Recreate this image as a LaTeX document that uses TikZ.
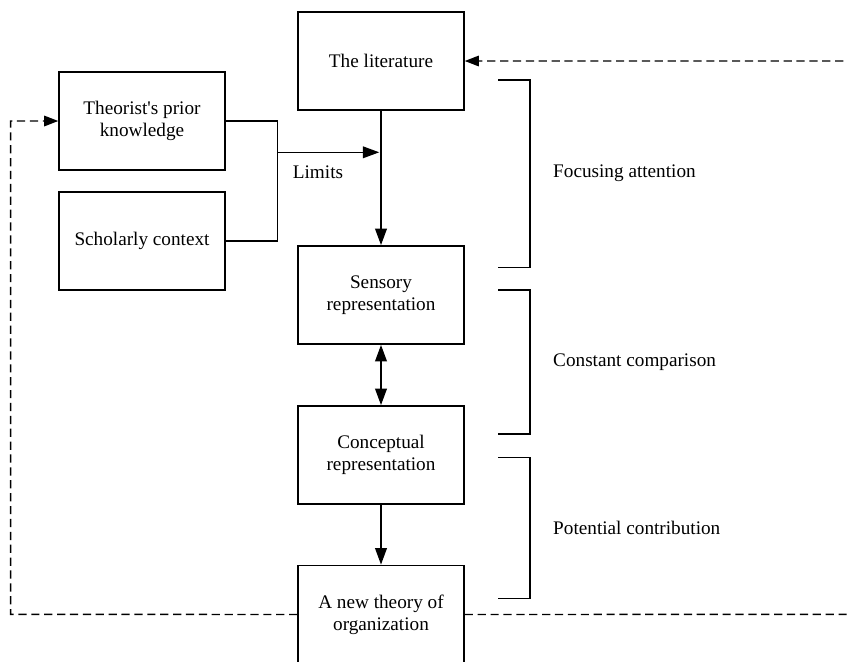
\documentclass[tikz,border=0pt]{standalone}
\usepackage{fontspec}
\setmainfont{Liberation Serif}
\usetikzlibrary{arrows.meta}

\tikzset{
  box/.style={draw,line width=1.3pt,minimum width=4.98cm,minimum height=2.95cm,
    align=center,inner sep=2pt},
  link/.style={line width=1.2pt,-{Triangle[length=14pt,width=10pt]}},
  feedback/.style={line width=1.2pt,dash pattern=on 7pt off 4pt,
    -{Triangle[length=12pt,width=9pt]}},
  bracket/.style={line width=1.2pt},
  side/.style={anchor=west,inner sep=0pt}
}

\begin{document}
\begin{tikzpicture}[x=0.03cm,y=-0.03cm,font=\fontsize{16.4}{18.7}\selectfont]
      \useasboundingbox (0,0) rectangle (847,661) ;
      \clip (0,0) rectangle (847,661) ;
      % the chain of boxes
      \node[box] (lit) at (381,61) {The literature} ;
      \node[box] (sens) at (381,295) {Sensory\\representation} ;
      \node[box] (conc) at (381,455) {Conceptual\\representation} ;
      \node[box] (newt) at (381,614.5) {A new theory of\\organization} ;
      \node[box] (prior) at (142,121) {Theorist\textquotesingle s prior\\knowledge} ;
      \node[box] (schol) at (142,241) {Scholarly context} ;
      \draw[link] (lit) -- (sens) ;
      \draw[link,{Triangle[length=14pt,width=10pt]}-{Triangle[length=14pt,width=10pt]}] %
      (sens) -- (conc) ;
      \draw[link] (conc) -- (newt) ;
      % limits
      \coordinate (join) at (277.3,152.3) ;
      \draw[bracket] (prior.east) -| (join) |- (schol.east) ;
      \draw[link,shorten >=1.5pt] (join) -- (join -| lit.south) ;
      \node (limits) at (318,172) {Limits} ;
      % feedback loops
      \draw[feedback] (newt.west) -- (10.7,614.3) |- (prior.west) ;
      \draw[feedback] (newt.east) -- (880,614.3) |- (lit.east) ;
      % brackets and their labels
      \draw[bracket] (498.3,80) -- (530,80) -- (530,267.3) -- (498.3,267.3) ;
      \draw[bracket] (498.3,290) -- (530,290) -- (530,434) -- (498.3,434) ;
      \draw[bracket] (498.3,457.3) -- (530,457.3) -- (530,598.3) -- (498.3,598.3) ;
      \node[side] (focus) at (553,173.7) {Focusing attention} ;
      \node[side] (compare) at (553,362) {Constant comparison} ;
      \node[side] (contrib) at (553,527.8) {Potential contribution} ;
    \end{tikzpicture}
\end{document}
